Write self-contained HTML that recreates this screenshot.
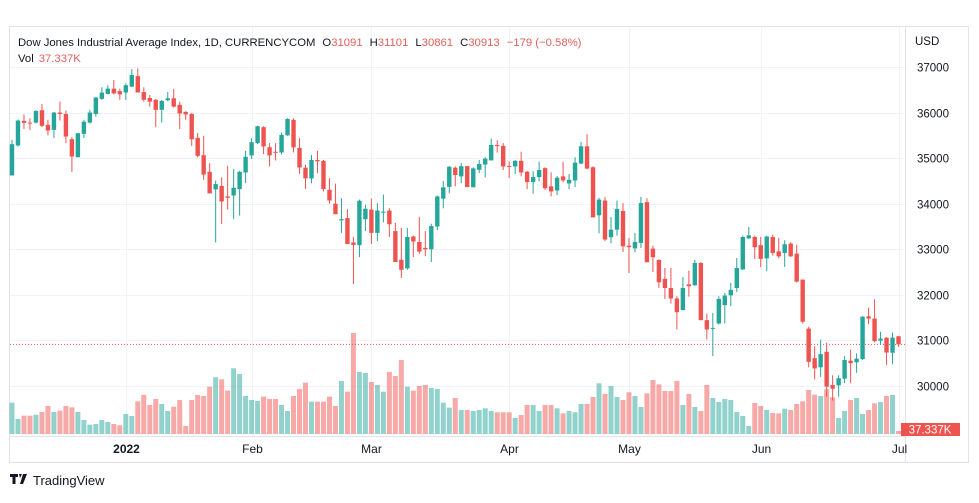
<!DOCTYPE html>
<html><head><meta charset="utf-8">
<style>
html,body{margin:0;padding:0;background:#fff;}
body{width:979px;height:498px;position:relative;overflow:hidden;font-family:"Liberation Sans",sans-serif;}
svg text{font-family:"Liberation Sans",sans-serif;}
</style></head>
<body>
<svg id="chart" width="979" height="498" xmlns="http://www.w3.org/2000/svg">
  <rect x="9.5" y="26.5" width="959" height="436" fill="#fff" stroke="#e0e3eb"/>
  <g id="grid"></g>
  <g id="vols"></g>
  <g id="candles"></g>
  <line x1="905.5" y1="27" x2="905.5" y2="462" stroke="#e0e3eb"/>
  <line x1="10" y1="436.5" x2="905" y2="436.5" stroke="#e0e3eb"/>
  <g id="yaxis"></g>
  <g id="xaxis"></g>
  <text x="915" y="45" font-size="11.5" fill="#131722">USD</text>
  <text x="18" y="46" font-size="11.3" fill="#131722">Dow Jones Industrial Average Index, 1D, CURRENCYCOM<tspan dx="7" fill="#131722">O</tspan><tspan fill="#e0605c">31091</tspan><tspan dx="7" fill="#131722">H</tspan><tspan fill="#e0605c">31101</tspan><tspan dx="7" fill="#131722">L</tspan><tspan fill="#e0605c">30861</tspan><tspan dx="7" fill="#131722">C</tspan><tspan fill="#e0605c">30913</tspan><tspan dx="7" fill="#e0605c">−179 (−0.58%)</tspan></text>
  <text x="18" y="62" font-size="11.3" fill="#131722">Vol<tspan dx="5" fill="#e0605c">37.337K</tspan></text>
  <g>
    <rect x="901" y="423" width="59" height="13" fill="#ef5350"/>
    <text x="930" y="433.5" font-size="11.5" fill="#fff" text-anchor="middle">37.337K</text>
  </g>
  <g>
    <path d="M10 474h8v3h-2.5v7h-3v-7H10z M19 474h3l-2 4z M23 474h4l-4 10h-3z" fill="#131722"/>
    <text x="33" y="485" font-size="13" fill="#131722">TradingView</text>
  </g>
</svg>
<script>
const opens=[34620,35277,35817,35780,35780,36050,35730,35620,36000,35970,35415,35020,35533,35780,35970,36300,36410,36525,36470,36440,36570,36800,36450,36320,36280,36060,36270,36314,36170,36015,35970,35445,35065,34700,34314,34390,34160,34180,34320,34686,35060,35330,35680,35240,35140,35125,35500,35840,35225,34790,34555,34960,34940,34305,34000,33635,33685,33150,33090,33660,33870,33360,33810,33850,33400,32770,32580,33280,33160,33030,33000,33500,34110,34370,34790,34600,34825,34360,34745,34860,34950,35290,35270,34830,34817,34940,34700,34475,34585,34780,34380,34290,34600,34445,34510,34880,35260,34800,33745,34070,33265,33430,33840,33080,33020,33140,34035,33015,32765,32350,32150,31920,31665,32230,32210,32700,31445,31255,31370,31775,31990,32150,32555,33240,33270,33090,32800,33270,32955,32920,33125,32905,32335,31260,30610,30410,30750,30020,30015,30160,30555,30520,30590,31530,31480,30995,31060,30730,31091];
const highs=[35400,35850,35960,35875,36050,36190,35840,36015,36240,36045,35460,35547,35840,36060,36340,36555,36600,36715,36525,36640,36956,36970,36555,36385,36300,36277,36450,36520,36240,36030,35985,35550,35490,34890,34510,34580,34830,34760,34720,35160,35440,35710,35700,35330,35330,35560,35875,35875,35440,34855,35065,35160,34960,34560,34440,34120,33880,33270,34090,33980,34110,34010,34200,33900,33580,33470,33470,33300,33710,33400,33560,34180,34500,34830,34820,34890,34830,34800,34960,35020,35430,35390,35330,34925,34960,35140,34720,34715,34925,34800,34690,34610,34920,34650,35020,35355,35525,34820,34130,34150,33710,34070,34015,33250,33360,34150,34120,33080,32780,32590,32590,31970,32390,32530,32770,32715,31590,31605,31970,32045,32260,32810,33300,33490,33300,33270,33300,33320,33250,33200,33160,33100,32335,31300,30875,31020,30950,30235,30235,30655,30800,30715,31530,31720,31900,31190,31070,31170,31101];
const lows=[34620,35255,35640,35620,35760,35680,35500,35440,35825,35330,34700,35020,35440,35760,35910,36280,36400,36400,36280,36280,36560,36440,36240,36130,35680,35780,36250,36110,35640,35840,35270,35020,34525,34226,33150,33555,33870,33660,33740,34450,34980,35310,35090,34820,34950,35080,35490,35125,34655,34320,34450,34670,34270,34000,33770,33360,33115,32240,32830,33400,33115,33180,33590,33270,32720,32370,32550,32830,32900,32850,32720,33420,33900,34230,34380,34450,34365,34360,34670,34580,34950,35120,34740,34560,34650,34600,34320,34220,34490,34300,34160,34190,34470,34320,34365,34870,34760,33700,33350,33180,33130,33300,32940,32480,32935,33030,32715,32500,32150,31910,31810,31240,31660,31960,32200,31445,31020,30655,31350,31370,31750,32060,32555,33230,32790,32610,32520,32860,32800,32615,32830,32270,31370,30410,30145,30200,29765,29680,29765,30060,30060,30290,30570,31355,30960,30900,30460,30475,30861];
const closes=[35306,35825,35774,35765,36036,35708,35606,36000,35970,35474,35036,35547,35800,36000,36330,36438,36525,36420,36400,36600,36825,36440,36280,36240,36060,36255,36314,36130,35980,35960,35416,35050,34640,34226,34430,34050,34130,34350,34700,35030,35350,35700,35255,35060,35135,35510,35860,35235,34795,34555,34960,34930,34320,34070,33770,33660,33115,33095,34065,33890,33360,33850,33825,33550,32720,32550,33270,33170,32950,33000,33510,34160,34360,34810,34630,34825,34365,34775,34870,34990,35290,35265,34817,34817,34940,34685,34475,34585,34740,34340,34270,34570,34510,34525,34900,35260,34770,33700,34090,33215,33430,33885,33065,33045,33160,34015,32715,32825,32275,32150,31920,31620,32150,32190,32700,31445,31240,31275,31910,31985,32110,32590,33270,33305,33045,32790,33280,32920,32845,33110,32845,32290,31410,30530,30385,30700,29985,29940,30170,30570,30500,30600,31520,31480,30985,31040,30735,31060,30913];
const volumes=[390,187,228,228,241,274,349,274,290,349,332,274,174,116,125,174,149,125,108,249,224,407,486,361,436,374,286,340,423,100,423,486,473,589,706,681,540,818,747,473,423,411,465,436,436,361,286,473,560,639,403,403,403,465,349,660,527,1257,772,759,647,610,527,772,722,921,589,540,598,610,573,560,390,328,448,299,299,286,299,320,286,270,270,270,199,237,361,361,286,361,361,320,257,286,270,374,374,461,631,498,598,461,423,519,473,336,506,672,618,535,535,660,361,498,336,286,610,448,398,436,423,274,224,100,386,349,299,261,257,315,299,374,407,548,490,473,556,456,199,286,423,448,249,299,382,398,473,486,37.337];
const priceTicks=[37000,36000,35000,34000,33000,32000,31000,30000];
const timeLabels=["2022","Feb","Mar","Apr","May","Jun","Jul"];
const timeLabelIdx=[19,40,60,83,103,125,148];
const lastPrice=30913;

const SVGNS="http://www.w3.org/2000/svg";
const X0=12, STEP=5.99, PLOT_L=10, PLOT_R=905;
function xPos(i){return X0+i*STEP;}
function yPrice(p){return 67+(37000-p)*0.04557;}
const VOL_MAX=1257, VOL_BASE=434, VOL_H=101;
function yVol(v){return VOL_BASE-v/VOL_MAX*VOL_H;}
function mk(tag,attrs,parent){const e=document.createElementNS(SVGNS,tag);for(const k in attrs)e.setAttribute(k,attrs[k]);parent.appendChild(e);return e;}

const grid=document.getElementById('grid');
const yaxis=document.getElementById('yaxis');
const xaxis=document.getElementById('xaxis');
priceTicks.forEach(p=>{
  const y=Math.round(yPrice(p))+0.5;
  const l=mk('line',{x1:PLOT_L,x2:PLOT_R,y1:y,y2:y,stroke:'#f0f3fa'},grid);
  
  
  const t=mk('text',{x:917,y:y+4,'font-size':'11.5',fill:'#131722'},yaxis);
  t.textContent=String(p);
  
  
});
timeLabels.forEach((lab,k)=>{
  const x=Math.round(xPos(timeLabelIdx[k]))+0.5;
  const l=mk('line',{x1:x,x2:x,y1:27,y2:436,stroke:'#f0f3fa'},grid);
  
  
  const t=mk('text',{x:x,y:453,'font-size':'12',fill:'#131722','text-anchor':'middle','font-weight':k===0?'bold':'normal'},xaxis);
  t.textContent=lab;
  
  
});
const vols=document.getElementById('vols');
volumes.forEach((v,i)=>{
  const up=closes[i]>=opens[i];
  const y=yVol(v);
  const r=mk('rect',{x:xPos(i)-2.5,y:y,width:5,height:VOL_BASE-y,fill:up?'rgba(38,166,154,0.5)':'rgba(239,83,80,0.5)'},vols);
  
  
});
const ly=yPrice(lastPrice);
const dl=mk('line',{x1:PLOT_L,x2:PLOT_R,y1:ly,y2:ly,stroke:'#ef5350','stroke-dasharray':'1 2'},grid);


const cg=document.getElementById('candles');
opens.forEach((o,i)=>{
  const c=closes[i], up=c>=o, col=up?'#26a69a':'#ef5350', x=xPos(i);
  const g=mk('g',{},cg);
  
  
  mk('line',{x1:x,x2:x,y1:yPrice(highs[i]),y2:yPrice(lows[i]),stroke:col,'stroke-width':1},g);
  const top=yPrice(Math.max(o,c)), bot=yPrice(Math.min(o,c));
  mk('rect',{x:x-2.2,y:top,width:4.4,height:Math.max(1,bot-top),fill:col},g);
});
</script>
</body></html>
